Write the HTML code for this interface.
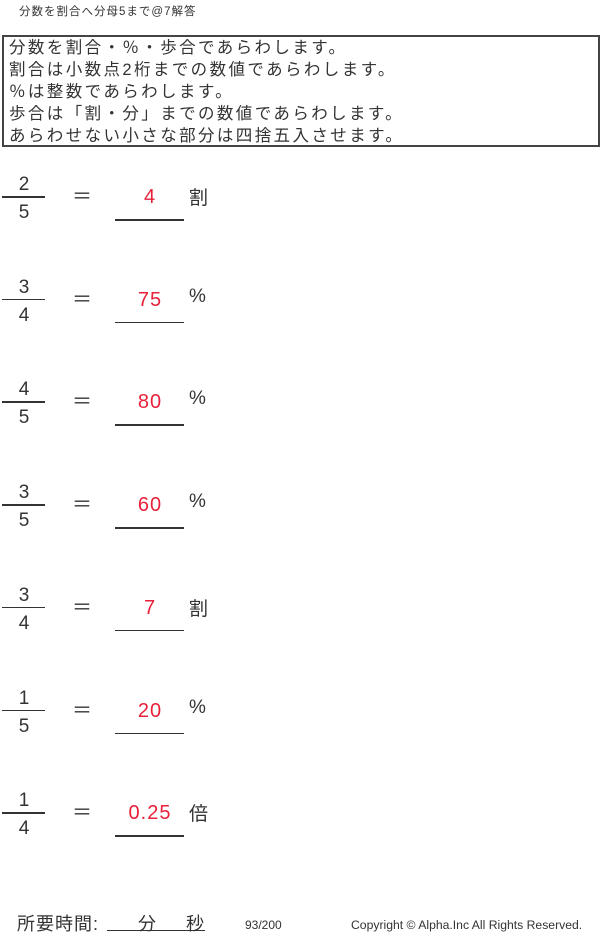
<!DOCTYPE html>
<html><head><meta charset="utf-8"><style>
body{margin:0;width:600px;height:938px;background:#fff;position:relative;font-family:"Liberation Sans","Noto Sans CJK JP",sans-serif;color:#333;overflow:hidden}
.a{position:absolute;white-space:nowrap}
.title{left:19px;top:3px;font-size:11.5px;letter-spacing:1px}
.box{position:absolute;left:2px;top:35px;width:594px;height:108px;border:2px solid #444}
.box div{position:absolute;left:5px;font-size:16.5px;letter-spacing:2.4px;line-height:20px}
.num{font-size:19px;width:44px;text-align:center;left:2px}
.fl{position:absolute;left:2px;width:43px;height:1.5px;background:#333}
.eq{left:72px;font-size:20px}
.ans{color:#e8203a;font-size:20px;width:70px;text-align:center;left:115px;letter-spacing:1px}
.ul{position:absolute;left:115px;width:69px;height:1.5px;background:#333}
.unit{left:189px;font-size:19px}
</style></head><body>
<div class="a title">分数を割合へ分母5まで@7解答</div>
<div class="box">
<div style="top:1px">分数を割合・％・歩合であらわします。</div>
<div style="top:23px">割合は小数点2桁までの数値であらわします。</div>
<div style="top:45px">％は整数であらわします。</div>
<div style="top:67px">歩合は「割・分」までの数値であらわします。</div>
<div style="top:89px">あらわせない小さな部分は四捨五入させます。</div>
</div>
<div id="rows"></div>
<script>
var d=[["2","5","4","割"],["3","4","75","%"],["4","5","80","%"],["3","5","60","%"],["3","4","7","割"],["1","5","20","%"],["1","4","0.25","倍"]];
var h="";
d.forEach(function(r,i){var c=196+i*102.7;
h+='<div class="a num" style="top:'+(c-22)+'px">'+r[0]+'</div>';
h+='<div class="fl" style="top:'+(c)+'px"></div>';
h+='<div class="a num" style="top:'+(c+6)+'px">'+r[1]+'</div>';
h+='<div class="a eq" style="top:'+(c-16)+'px">＝</div>';
h+='<div class="a ans" style="top:'+(c-10)+'px">'+r[2]+'</div>';
h+='<div class="ul" style="top:'+(c+23)+'px"></div>';
h+='<div class="a unit" style="top:'+(c-13)+'px">'+r[3]+'</div>';});
document.getElementById("rows").innerHTML=h;
</script>
<div class="a" style="left:17px;top:910px;font-size:18px;letter-spacing:1px">所要時間:</div>
<div class="a" style="left:107px;top:930px;width:98px;height:1px;background:#333"></div>
<div class="a" style="left:138px;top:910px;font-size:18px">分</div>
<div class="a" style="left:186px;top:910px;font-size:18px">秒</div>
<div class="a" style="left:245px;top:918px;font-size:12px">93/200</div>
<div class="a" style="left:351px;top:918px;font-size:12.2px">Copyright ©  Alpha.Inc All Rights Reserved.</div>
</body></html>
